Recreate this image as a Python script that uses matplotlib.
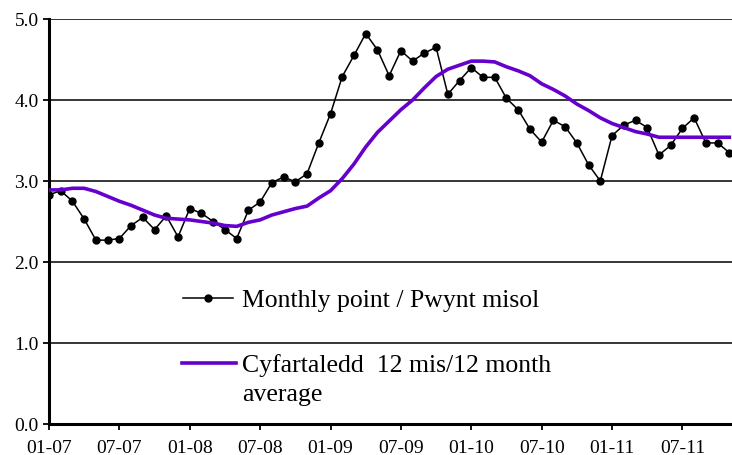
import matplotlib
matplotlib.use('Agg')
import matplotlib.pyplot as plt
from matplotlib.lines import Line2D
import numpy as np

# month labels every 6 months, data starts 01-07 (monthly)
tick_labels = ['01-07', '07-07', '01-08', '07-08', '01-09', '07-09',
               '01-10', '07-10', '01-11', '07-11']
monthly = [2.83, 2.88, 2.75, 2.53, 2.27, 2.27, 2.29, 2.45, 2.55, 2.40,
           2.57, 2.31, 2.66, 2.60, 2.50, 2.40, 2.29, 2.64, 2.74, 2.98,
           3.05, 2.99, 3.09, 3.47, 3.83, 4.29, 4.55, 4.82, 4.62, 4.30,
           4.61, 4.48, 4.58, 4.65, 4.07, 4.24, 4.40, 4.28, 4.28, 4.02,
           3.88, 3.64, 3.48, 3.75, 3.67, 3.47, 3.20, 3.00, 3.56, 3.69,
           3.75, 3.66, 3.32, 3.44, 3.65, 3.78, 3.47, 3.47, 3.35]
avg12 = [2.89, 2.89, 2.91, 2.91, 2.87, 2.81, 2.75, 2.70, 2.64, 2.58,
         2.54, 2.53, 2.52, 2.50, 2.48, 2.45, 2.44, 2.49, 2.52, 2.58,
         2.62, 2.66, 2.69, 2.79, 2.88, 3.03, 3.21, 3.42, 3.60, 3.74,
         3.88, 4.00, 4.15, 4.29, 4.38, 4.43, 4.48, 4.48, 4.47, 4.41,
         4.36, 4.30, 4.20, 4.13, 4.05, 3.95, 3.87, 3.78, 3.71, 3.66,
         3.61, 3.58, 3.54, 3.54, 3.54, 3.54, 3.54, 3.54, 3.54]
label_monthly = 'Monthly point / Pwynt misol'
label_avg = 'Cyfartaledd  12 mis/12 month\naverage'

PURPLE = '#6600cc'
plt.rcParams['font.family'] = ['Liberation Serif', 'DejaVu Serif']

W, H = 732, 456
fig = plt.figure(figsize=(W / 100, H / 100), dpi=100)
ax = fig.add_axes([49/W, 1 - 425/H, 1 - 49/W, (425 - 20)/H])

x = np.arange(len(monthly))
ax.plot(x, monthly, color='black', lw=1.1, marker='o', ms=5, zorder=3)
ax.plot(x, avg12, color=PURPLE, lw=2.6, zorder=4)

ax.set_ylim(0, 5)
ax.set_yticks(np.arange(0, 5.1, 1.0))
ax.set_yticklabels(['%.1f' % v for v in np.arange(0, 5.1, 1.0)])
ax.set_xlim(0, (W - 49) / 11.73)
ax.set_xticks(np.arange(0, 60, 6))
ax.set_xticklabels(tick_labels)

ax.yaxis.grid(True, color='black', lw=1.1)
ax.set_axisbelow(True)
for s in ['top', 'right']:
    ax.spines[s].set_visible(False)
for s in ['left', 'bottom']:
    ax.spines[s].set_linewidth(2.2)
ax.tick_params(axis='both', labelsize=14, colors='black', width=1.3,
               length=4.5, direction='out')
ax.tick_params(axis='y', pad=3)
ax.tick_params(axis='x', pad=6)

# legend, laid out by hand so the purple key sits on the first text line
def fy(py):
    return 1 - py / H

fig.add_artist(Line2D([183/W, 233/W], [fy(299), fy(299)], color='black', lw=1.1))
fig.add_artist(Line2D([208/W], [fy(299)], color='black', marker='o', ms=5))
fig.text(242/W, fy(307), label_monthly, fontsize=18.5, va='baseline')
fig.add_artist(Line2D([182/W, 236/W], [fy(364), fy(364)], color=PURPLE, lw=2.6))
# va='baseline' on multi-line text anchors the last line
fig.text(242/W, fy(401), label_avg, fontsize=18.5, va='baseline',
         linespacing=1.42)

fig.savefig('out.png', dpi=100)
